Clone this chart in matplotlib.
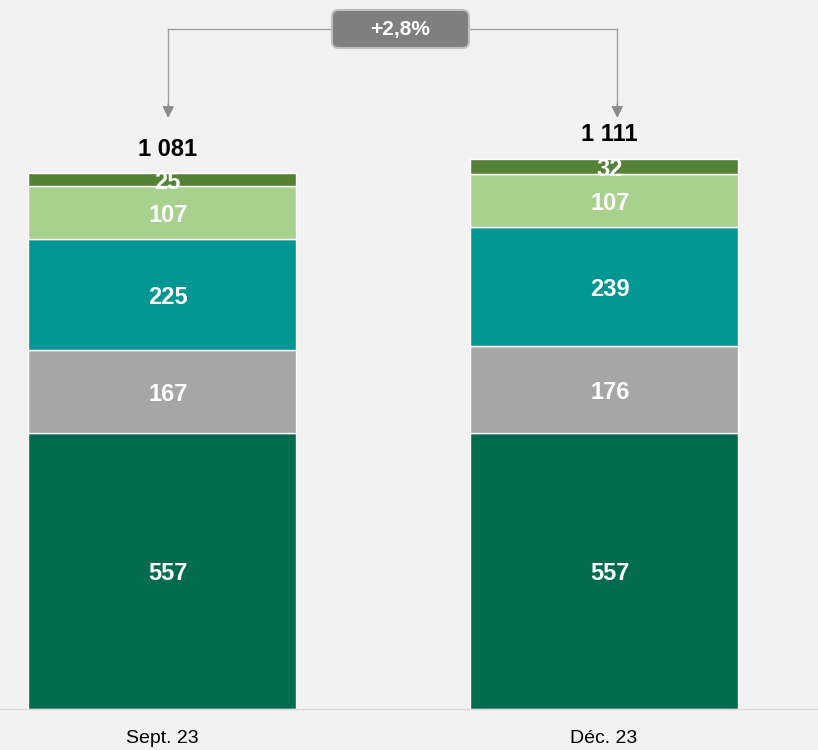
import matplotlib.pyplot as plt
import matplotlib.transforms as mtransforms
from matplotlib.patches import FancyBboxPatch
from matplotlib import font_manager

# Data
periods = ['Sept. 23', 'Déc. 23']
segments = [
    [557, 557],
    [167, 176],
    [225, 239],
    [107, 107],
    [25, 32],
]
totals = ['1 081', '1 111']
change_label = '+2,8%'
colors = ['#006B4F', '#A6A6A6', '#009694', '#A9D18E', '#548235']

names = {f.name for f in font_manager.fontManager.ttflist}
base_font = 'Liberation Sans' if 'Liberation Sans' in names else 'DejaVu Sans'
narrow_font = 'Liberation Sans Narrow' if 'Liberation Sans Narrow' in names else base_font
plt.rcParams['font.family'] = [base_font, 'DejaVu Sans']

fig = plt.figure(figsize=(8.18, 7.5), dpi=100, facecolor='#F2F2F2')
ax = fig.add_axes([0, 41 / 750, 1, 709 / 750])
ax.set_facecolor('#F2F2F2')

x = [0, 1]
width = 0.606
label_dx = 0.013
bottoms = [0, 0]
for vals, c in zip(segments, colors):
    ax.bar(x, vals, width, bottom=bottoms, color=c, edgecolor='white', linewidth=1)
    for i, v in enumerate(vals):
        ax.annotate(str(v), (x[i] + label_dx, bottoms[i] + v / 2), xytext=(0, -2),
                    textcoords='offset points', ha='center', va='center',
                    color='white', fontsize=17, fontweight='bold')
    bottoms = [b + v for b, v in zip(bottoms, vals)]

# totals above bars
for i, t in enumerate(totals):
    ax.annotate(t, (x[i] + label_dx, bottoms[i]), xytext=(0, 17), textcoords='offset points',
                ha='center', va='center', fontsize=17, fontweight='bold', color='black')

ax.set_xlim(-0.3665, 1.484)
ax.set_ylim(0, 1431)

# evolution connector
trans = mtransforms.blended_transform_factory(ax.transData, ax.transAxes)
line_y = 1 - 29 / 709
tip_y = 1 - 118 / 709
arrow_x = [x[0] + 0.014, x[1] + 0.03]
line_c = '#A0A0A0'
box_l, box_r = 332 / 818, 469 / 818
box_cx = (box_l + box_r) / 2
ax.plot([arrow_x[0], arrow_x[0]], [line_y, tip_y + 0.01], transform=trans, color=line_c, lw=1)
ax.plot([arrow_x[1], arrow_x[1]], [line_y, tip_y + 0.01], transform=trans, color=line_c, lw=1)
ax.plot([arrow_x[0], arrow_x[1]], [line_y, line_y], transform=trans, color=line_c, lw=1)
for ax_x in arrow_x:
    ax.annotate('', xy=(ax_x, tip_y), xycoords=trans, xytext=(ax_x, tip_y + 0.02),
                textcoords=trans,
                arrowprops=dict(arrowstyle='-|>,head_length=0.7,head_width=0.35',
                                color='#8C8C8C', lw=1, shrinkA=0, shrinkB=0))

box = FancyBboxPatch((box_l, 1 - 48 / 709), box_r - box_l, 38 / 709,
                     boxstyle='round,pad=0,rounding_size=0.008',
                     mutation_aspect=818 / 709, transform=ax.transAxes,
                     facecolor='#7F7F7F', edgecolor='#BFBFBF', linewidth=1.5, zorder=3)
ax.add_patch(box)
ax.text(box_cx, line_y, change_label, transform=ax.transAxes, ha='center', va='center',
        color='white', fontsize=15, fontweight='bold', zorder=4)

# axis
for s in ['top', 'right', 'left']:
    ax.spines[s].set_visible(False)
ax.spines['bottom'].set_color('#D9D9D9')
ax.spines['bottom'].set_linewidth(1)
ax.set_yticks([])
ax.set_xticks(x)
ax.set_xticklabels(periods, fontsize=14, family=[narrow_font, 'DejaVu Sans'])
ax.tick_params(axis='x', length=0, pad=15)

fig.savefig('out.png', dpi=100, facecolor=fig.get_facecolor())
